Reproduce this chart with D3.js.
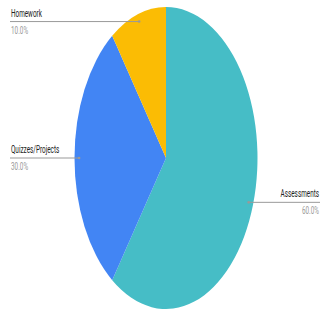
<!DOCTYPE html>
<html><head><meta charset="utf-8">
<script src="https://cdn.jsdelivr.net/npm/d3@7"></script>
<style>html,body{margin:0;padding:0;background:#fff;}svg{display:block;}</style>
</head><body>
<svg id="chart" width="320" height="310"></svg>
<script>
const categories = ["Assessments", "Quizzes/Projects", "Homework"];
const values = [60, 30, 10];
const pctLabels = ["60.0%", "30.0%", "10.0%"];
const colors = ["#46BDC6", "#4285F4", "#FBBC04"];

const W = 320, H = 310;
const cx = 166, cy = 158, ry = 151, rx = 91.5;
const sx = rx / ry;
const svg = d3.select("#chart");

const pie = d3.pie().sort(null).value(d => d.v);
const data = pie(categories.map((c, i) => ({c, v: values[i], p: pctLabels[i], col: colors[i]})));
const arc = d3.arc().innerRadius(0).outerRadius(ry);

const g = svg.append("g").attr("transform", `translate(${cx},${cy}) scale(${sx},1)`);
g.selectAll("path").data(data).join("path")
  .attr("d", arc).attr("fill", d => d.data.col);

const k = 0.95;
data.forEach(d => {
  const a = (d.startAngle + d.endAngle) / 2;
  const px = cx + rx * k * Math.sin(a);
  const py = cy - ry * k * Math.cos(a);
  const right = px > cx;
  const x2 = right ? W : 10;
  svg.append("line").attr("x1", px).attr("y1", py).attr("x2", x2).attr("y2", py)
    .attr("stroke", "#999").attr("stroke-width", 1);
  svg.append("circle").attr("cx", px).attr("cy", py).attr("r", 1.3).attr("fill", "#999");
  const tx = right ? 319 : 11;
  const anchor = right ? "end" : "start";
  svg.append("text").attr("transform", `translate(${tx},${py - 5}) scale(${sx},1)`)
    .attr("text-anchor", anchor).attr("font-family", "Roboto, Arial, sans-serif")
    .attr("font-size", 10.5).attr("fill", "#222").text(d.data.c);
  svg.append("text").attr("transform", `translate(${tx},${py + 12}) scale(${sx},1)`)
    .attr("text-anchor", anchor).attr("font-family", "Roboto, Arial, sans-serif")
    .attr("font-size", 10.5).attr("fill", "#999").text(d.data.p);
});
</script>
</body></html>
